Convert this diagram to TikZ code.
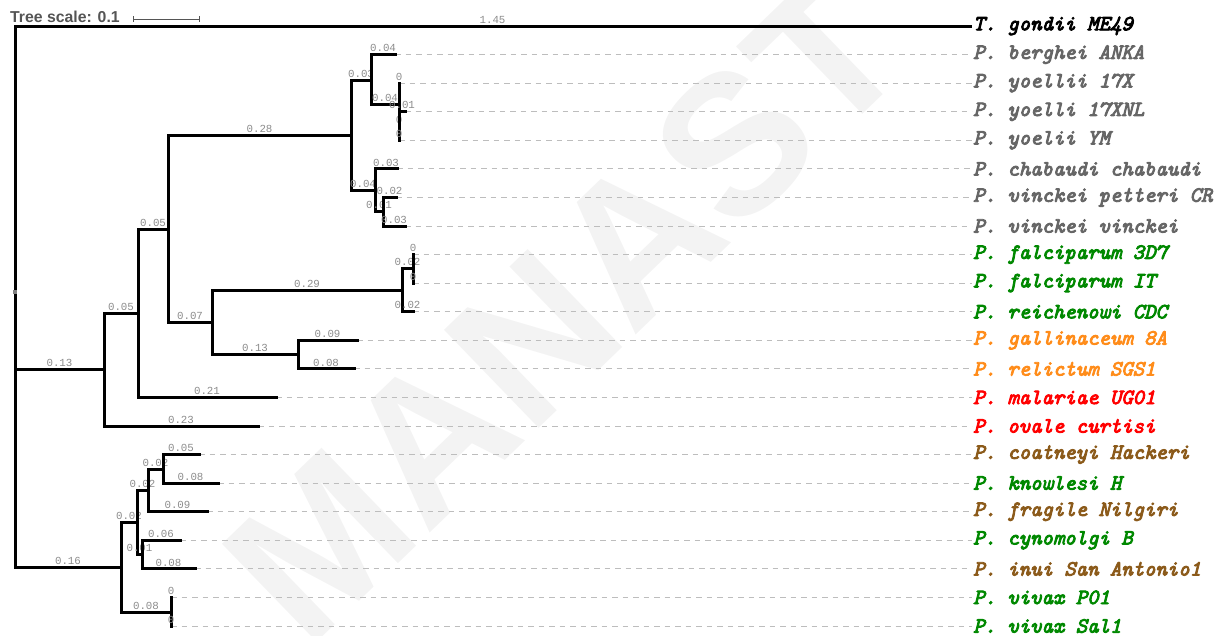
\documentclass[tikz,border=0pt]{standalone}
\usepackage{fontspec}
\setmainfont{Liberation Sans}
\newfontfamily\monofont{Liberation Mono}
\newfontfamily\labfont{lmmono10-italic.otf}[FakeBold=4]
\usetikzlibrary{calc}
\definecolor{lgrey}{HTML}{666666}
\definecolor{lgreen}{HTML}{008800}
\definecolor{lorange}{HTML}{FF8C1A}
\definecolor{lred}{HTML}{FF0000}
\definecolor{lbrown}{HTML}{8B5A1A}
\definecolor{blgrey}{HTML}{8C8C8C}
\definecolor{dashgrey}{HTML}{BDBDBD}
\definecolor{wmgrey}{HTML}{F3F3F3}
\definecolor{scgrey}{HTML}{555555}
\tikzset{
  branch/.style={line width=3pt, line join=miter, line cap=rect, black},
  blab/.style={font=\monofont\fontsize{10.8}{10.8}\selectfont, text=blgrey, anchor=south, inner sep=0pt, yshift=1.2pt},
  leader/.style={draw=dashgrey, line width=1pt, dash pattern=on 5.5pt off 5pt},
  lab/.style={font=\labfont\fontsize{21.7}{21.7}\selectfont, anchor=west, inner sep=1pt},
  scaletext/.style={font=\bfseries\fontsize{15.8}{15.8}\selectfont, text=scgrey, anchor=west, inner sep=0pt},
  scalebar/.style={draw=scgrey, line width=1pt},
  watermark/.style={font=\bfseries\fontsize{198}{198}\selectfont, text=wmgrey, inner sep=0pt}
}
\newcommand\tbranch[3]{\draw[branch] (#1) |- (#2) node[blab, pos=0.75] {#3};}
\begin{document}
\begin{tikzpicture}[x=1pt,y=-1pt]
\useasboundingbox (0,0) rectangle (1221,635);
\begin{scope}
\clip (0,0) rectangle (1221,635);
\node[watermark, rotate=44] (wm) at (565,308) {MANAST};
\end{scope}
% scale
\node[scaletext] (st) at (10,16.5) {Tree scale: 0.1};
\coordinate (sb1) at (133,19);
\coordinate (sb2) at (199,19);
\draw[scalebar] (sb1) -- (sb2);
\draw[scalebar] ($(sb1)+(0,-3)$) -- ($(sb1)+(0,3)$);
\draw[scalebar] ($(sb2)+(0,-3)$) -- ($(sb2)+(0,3)$);
% internal nodes
\coordinate (r) at (15,296.5);
\coordinate (A) at (104,369.5);
\coordinate (B) at (138,313);
\coordinate (C) at (168,229);
\coordinate (D) at (351,135.5);
\coordinate (E) at (371,80);
\coordinate (F) at (399,104.5);
\coordinate (G) at (399,126);
\coordinate (H) at (375,190.5);
\coordinate (I) at (383,211.5);
\coordinate (J) at (212,322);
\coordinate (K) at (402,290);
\coordinate (L) at (413,268.5);
\coordinate (M) at (298,354.5);
\coordinate (N) at (121,567);
\coordinate (O) at (137,522.5);
\coordinate (P) at (148,490.5);
\coordinate (R) at (163,469);
\coordinate (Q) at (142,554.5);
\coordinate (S) at (171,612);
% leaves
\coordinate (tg) at (970,26);
\coordinate (be) at (395,54.6);
\coordinate (y17) at (399,83.1);
\coordinate (xnl) at (405,111.7);
\coordinate (ym) at (399,140.3);
\coordinate (ch) at (397,168.9);
\coordinate (vp) at (396,197.4);
\coordinate (vv) at (405,226);
\coordinate (f3) at (413,254.6);
\coordinate (fi) at (413,283.1);
\coordinate (re) at (413,311.7);
\coordinate (ga) at (357,340.3);
\coordinate (rl) at (354,368.9);
\coordinate (ma) at (276,397.4);
\coordinate (ov) at (258,426);
\coordinate (co) at (199,454.6);
\coordinate (kn) at (218,483.1);
\coordinate (fr) at (207,511.7);
\coordinate (cy) at (180,540.3);
\coordinate (in) at (195,568.9);
\coordinate (v1) at (171,597.4);
\coordinate (v2) at (171,626);
% labels
\node[lab, text=black] (ltg) at (972,26) {T. gondii ME49};
\node[lab, text=lgrey] (lbe) at (972,54.6) {P. berghei ANKA};
\node[lab, text=lgrey] (ly17) at (972,83.1) {P. yoellii 17X};
\node[lab, text=lgrey] (lxnl) at (972,111.7) {P. yoelli 17XNL};
\node[lab, text=lgrey] (lym) at (972,140.3) {P. yoelii YM};
\node[lab, text=lgrey] (lch) at (972,168.9) {P. chabaudi chabaudi};
\node[lab, text=lgrey] (lvp) at (972,197.4) {P. vinckei petteri CR};
\node[lab, text=lgrey] (lvv) at (972,226) {P. vinckei vinckei};
\node[lab, text=lgreen] (lf3) at (972,254.6) {P. falciparum 3D7};
\node[lab, text=lgreen] (lfi) at (972,283.1) {P. falciparum IT};
\node[lab, text=lgreen] (lre) at (972,311.7) {P. reichenowi CDC};
\node[lab, text=lorange] (lga) at (972,340.3) {P. gallinaceum 8A};
\node[lab, text=lorange] (lrl) at (972,368.9) {P. relictum SGS1};
\node[lab, text=lred] (lma) at (972,397.4) {P. malariae UG01};
\node[lab, text=lred] (lov) at (972,426) {P. ovale curtisi};
\node[lab, text=lbrown] (lco) at (972,454.6) {P. coatneyi Hackeri};
\node[lab, text=lgreen] (lkn) at (972,483.1) {P. knowlesi H};
\node[lab, text=lbrown] (lfr) at (972,511.7) {P. fragile Nilgiri};
\node[lab, text=lgreen] (lcy) at (972,540.3) {P. cynomolgi B};
\node[lab, text=lbrown] (lin) at (972,568.9) {P. inui San Antonio1};
\node[lab, text=lgreen] (lv1) at (972,597.4) {P. vivax P01};
\node[lab, text=lgreen] (lv2) at (972,626) {P. vivax Sal1};
% leaders
\foreach \n in {be,y17,xnl,ym,ch,vp,vv,f3,fi,re,ga,rl,ma,ov,co,kn,fr,cy,in,v1,v2}
  \draw[leader] (\n) -- (l\n.west);
% branches
\tbranch{r}{tg}{1.45}
\tbranch{r}{A}{0.13}
\tbranch{A}{B}{0.05}
\tbranch{B}{C}{0.05}
\tbranch{C}{D}{0.28}
\tbranch{D}{E}{0.03}
\tbranch{E}{be}{0.04}
\tbranch{E}{F}{0.04}
\tbranch{F}{y17}{0}
\tbranch{F}{G}{0}
\tbranch{G}{xnl}{0.01}
\tbranch{G}{ym}{0}
\tbranch{D}{H}{0.04}
\tbranch{H}{ch}{0.03}
\tbranch{H}{I}{0.01}
\tbranch{I}{vp}{0.02}
\tbranch{I}{vv}{0.03}
\tbranch{C}{J}{0.07}
\tbranch{J}{K}{0.29}
\tbranch{K}{L}{0.02}
\tbranch{L}{f3}{0}
\tbranch{L}{fi}{0}
\tbranch{K}{re}{0.02}
\tbranch{J}{M}{0.13}
\tbranch{M}{ga}{0.09}
\tbranch{M}{rl}{0.08}
\tbranch{B}{ma}{0.21}
\tbranch{A}{ov}{0.23}
\tbranch{r}{N}{0.16}
\tbranch{N}{O}{0.02}
\tbranch{O}{P}{0.02}
\tbranch{P}{R}{0.02}
\tbranch{R}{co}{0.05}
\tbranch{R}{kn}{0.08}
\tbranch{P}{fr}{0.09}
\tbranch{O}{Q}{0.01}
\tbranch{Q}{cy}{0.06}
\tbranch{Q}{in}{0.08}
\tbranch{N}{S}{0.08}
\tbranch{S}{v1}{0}
\tbranch{S}{v2}{0}
% root marker
\node[fill=gray, minimum size=4pt, inner sep=0pt] (rd) at (15,292) {};
\end{tikzpicture}
\end{document}
